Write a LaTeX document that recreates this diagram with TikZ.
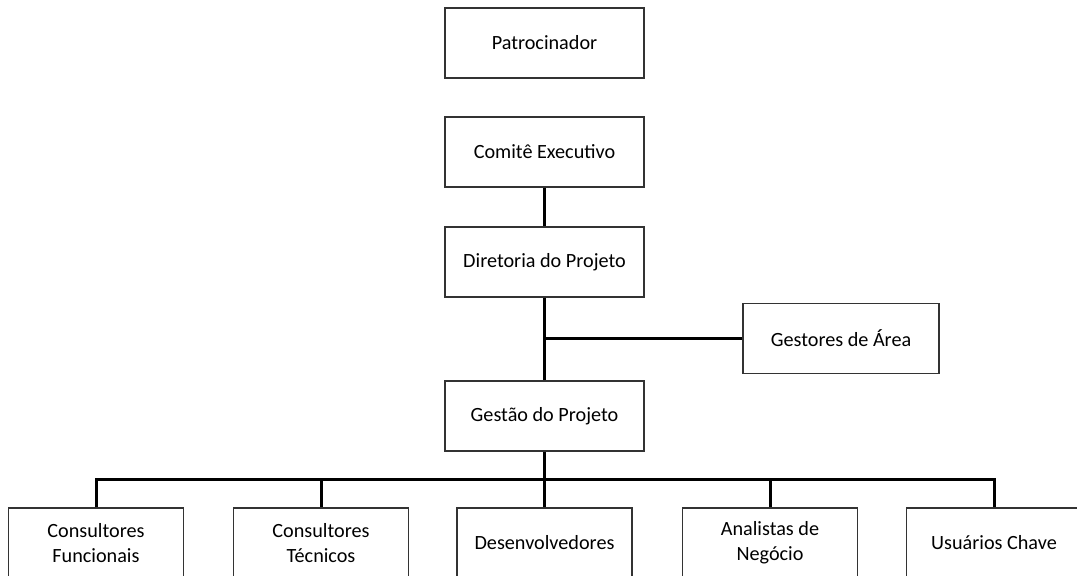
\documentclass[tikz,border=0pt]{standalone}
\usepackage{fontspec}
\setmainfont{Carlito}
\begin{document}
\begin{tikzpicture}[x=1pt,y=1pt,
  box/.style={draw=black!80, line width=1.1pt, fill=white, minimum width=199pt,
    minimum height=70pt, inner sep=0pt, align=center,
    font=\fontsize{20.2}{25}\selectfont},
  unit/.style={box, minimum width=175pt},
  link/.style={line width=3pt, draw=black}]
\useasboundingbox (0,0) rectangle (1077,576);

% upper chain
\node[box] (pat) at (544.5,533) {Patrocinador};
\node[box] (com) at (544.5,424) {Comitê Executivo};
\node[box] (dir) at (544.5,314) {Diretoria do Projeto};
\node[box, minimum width=196pt] (area) at (841,237.5) {Gestores de Área};
\node[box] (gp) at (544.5,160) {Gestão do Projeto};

% project teams
\node[unit] (cf) at (96,33) {Consultores\\Funcionais};
\node[unit] (ct) at (321,33) {Consultores\\Técnicos};
\node[unit] (dev) at (544.5,33) {Desenvolvedores};
\node[unit] (an) at (770,33) {Analistas de\\Negócio};
\node[unit] (uc) at (994,33) {Usuários Chave};

\coordinate (bus) at (544.5,96);

% connectors
\draw[link] (com.south) -- (dir.north);
\draw[link] (dir.south) -- (gp.north);
\draw[link] (dir.south |- area.west) -- (area.west);
\draw[link] (gp.south) -- (bus);
\draw[link] (cf.north) -- (cf.north |- bus) -- (uc.north |- bus) -- (uc.north);
\draw[link] (ct.north |- bus) -- (ct.north);
\draw[link] (dev.north |- bus) -- (dev.north);
\draw[link] (an.north |- bus) -- (an.north);
\end{tikzpicture}
\end{document}
